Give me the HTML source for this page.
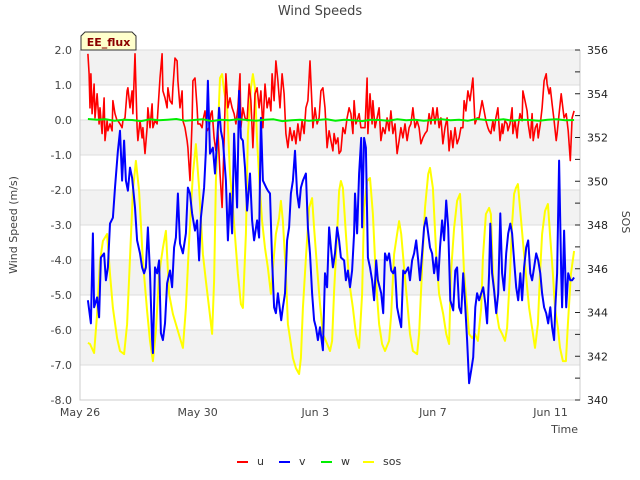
<!DOCTYPE html>
<html><head><meta charset="utf-8"><style>
html,body{margin:0;padding:0;background:#fff;}
svg{display:block;font-family:"DejaVu Sans","Liberation Sans",sans-serif;}
</style></head><body>
<svg id="chart" width="640" height="480" viewBox="0 0 640 480" xmlns="http://www.w3.org/2000/svg">
<text x="320" y="15" text-anchor="middle" font-size="13" fill="#444">Wind Speeds</text>
<g id="bands"></g>
<g id="series"></g>
<g id="axes"></g>
<g>
<path d="M85 32 L132 32 L136 36 L136 50 L81 50 L81 36 Z" fill="#ffffcc" stroke="#333" stroke-width="1"/>
<text x="108.5" y="46" text-anchor="middle" font-size="11" font-weight="bold" fill="#8b0000">EE_flux</text>
</g>
<text transform="translate(17,225) rotate(-90)" text-anchor="middle" font-size="11" fill="#444">Wind Speed (m/s)</text>
<text transform="translate(622,222) rotate(90)" text-anchor="middle" font-size="11" fill="#444">SOS</text>
<text x="578" y="433" text-anchor="end" font-size="11" fill="#444">Time</text>
<g id="legend"></g>
</svg>
<script>
const xTickLabels = ["May 26","May 30","Jun 3","Jun 7","Jun 11"];
const xTickDays = [0,4,8,12,16];
const yTicks = [2,1,0,-1,-2,-3,-4,-5,-6,-7,-8];
const y2Ticks = [356,354,352,350,348,346,344,342,340];

const vT = [0.27,0.37,0.44,0.48,0.58,0.65,0.71,0.82,0.88,0.95,1.02,1.12,1.19,1.29,1.36,1.43,1.50,1.56,1.63,1.70,1.77,1.87,1.94,2.04,2.11,2.18,2.24,2.31,2.38,2.45,2.48,2.55,2.62,2.69,2.75,2.82,2.89,2.96,3.06,3.13,3.20,3.26,3.33,3.40,3.50,3.60,3.67,3.74,3.81,3.91,3.98,4.05,4.11,4.22,4.28,4.35,4.42,4.52,4.59,4.66,4.73,4.79,4.86,4.96,5.03,5.10,5.17,5.24,5.34,5.41,5.47,5.54,5.61,5.68,5.78,5.85,5.92,6.02,6.09,6.15,6.22,6.33,6.39,6.46,6.53,6.60,6.66,6.73,6.84,6.90,6.97,7.04,7.11,7.17,7.24,7.31,7.38,7.45,7.51,7.58,7.68,7.75,7.82,7.89,7.96,8.02,8.09,8.16,8.26,8.33,8.40,8.47,8.53,8.60,8.67,8.74,8.81,8.87,8.98,9.04,9.11,9.18,9.25,9.32,9.35,9.42,9.49,9.56,9.59,9.66,9.72,9.79,9.86,9.93,10.00,10.07,10.13,10.24,10.31,10.37,10.44,10.51,10.58,10.65,10.71,10.78,10.85,10.92,10.99,11.05,11.16,11.22,11.29,11.36,11.43,11.50,11.56,11.63,11.70,11.77,11.84,11.90,11.97,12.04,12.11,12.18,12.24,12.31,12.38,12.45,12.52,12.59,12.69,12.76,12.82,12.89,12.96,13.03,13.10,13.16,13.23,13.30,13.37,13.44,13.50,13.57,13.64,13.71,13.78,13.84,13.91,13.95,14.01,14.08,14.15,14.22,14.29,14.35,14.42,14.49,14.56,14.63,14.69,14.76,14.83,14.90,14.97,15.03,15.10,15.17,15.24,15.31,15.37,15.44,15.51,15.58,15.65,15.71,15.78,15.85,15.92,15.99,16.05,16.12,16.16,16.22,16.29,16.36,16.39,16.46,16.53,16.60,16.67,16.73,16.80];
const vVals = [-5.15,-5.81,-3.24,-5.35,-5.07,-5.64,-3.93,-3.81,-4.58,-4.21,-2.96,-2.79,-1.93,-0.88,-0.31,-1.73,-0.59,-1.73,-2.02,-1.36,-1.65,-2.50,-3.44,-3.81,-4.21,-4.38,-4.21,-3.07,-4.38,-6.29,-6.66,-4.21,-4.38,-4.01,-6.09,-6.29,-5.81,-4.67,-4.30,-4.78,-3.64,-3.36,-2.10,-3.53,-3.81,-3.24,-1.93,-2.10,-2.67,-3.16,-2.87,-4.01,-2.79,-1.93,-0.88,1.12,-0.96,-0.79,-1.53,-0.59,0.35,-0.31,-0.59,-1.73,-3.44,-2.10,-3.24,-0.39,-2.50,0.83,-0.51,-0.59,-1.36,-2.59,-1.53,-2.87,-3.44,-2.87,-3.36,0.06,-1.73,-1.93,-2.02,-2.10,-4.01,-5.35,-5.52,-4.95,-5.72,-5.35,-4.95,-3.44,-3.07,-2.10,-1.73,-0.88,-2.10,-2.50,-1.93,-1.73,-1.53,-3.07,-3.81,-4.95,-5.72,-5.92,-6.29,-5.92,-6.58,-4.38,-4.78,-3.07,-3.64,-4.21,-3.81,-3.07,-3.44,-3.93,-4.01,-4.58,-4.30,-4.78,-4.30,-3.24,-2.10,-3.24,-1.53,-0.51,-3.07,-0.51,-0.79,-3.93,-4.21,-4.58,-5.15,-4.01,-4.58,-4.95,-5.52,-3.81,-4.01,-3.81,-4.30,-4.38,-4.21,-5.35,-5.64,-5.92,-4.30,-4.38,-4.21,-4.58,-4.01,-3.81,-3.44,-4.01,-4.58,-3.81,-3.07,-2.79,-3.24,-3.64,-3.81,-4.38,-3.93,-4.58,-3.64,-2.87,-3.44,-2.30,-3.07,-5.15,-5.44,-4.30,-4.21,-5.35,-5.52,-4.38,-5.35,-6.29,-7.52,-7.15,-6.78,-5.35,-4.95,-5.15,-4.95,-4.78,-5.24,-5.81,-4.38,-2.96,-4.38,-4.87,-5.52,-4.95,-2.67,-4.38,-4.87,-3.81,-3.24,-2.96,-3.24,-4.01,-4.78,-5.15,-4.38,-5.15,-4.21,-3.64,-3.44,-4.38,-4.58,-4.21,-3.81,-4.01,-4.38,-4.95,-5.35,-5.52,-5.81,-5.35,-5.92,-6.29,-5.35,-4.38,-1.16,-4.38,-5.35,-3.16,-5.35,-4.38,-4.58,-4.58,-4.50];

const sosT = [0.27,0.34,0.48,0.58,0.68,0.78,0.92,1.02,1.12,1.26,1.36,1.50,1.60,1.70,1.80,1.90,2.01,2.14,2.28,2.38,2.48,2.58,2.69,2.82,2.92,3.03,3.16,3.26,3.40,3.50,3.60,3.71,3.84,3.94,4.05,4.18,4.28,4.39,4.49,4.56,4.62,4.69,4.76,4.83,4.90,5.00,5.10,5.20,5.30,5.37,5.47,5.54,5.64,5.71,5.81,5.88,5.95,6.02,6.12,6.19,6.29,6.39,6.49,6.60,6.66,6.77,6.83,6.90,7.00,7.07,7.17,7.24,7.34,7.45,7.51,7.58,7.68,7.79,7.89,7.96,8.06,8.16,8.26,8.36,8.50,8.57,8.64,8.74,8.81,8.87,8.94,9.04,9.15,9.28,9.38,9.49,9.59,9.66,9.76,9.86,9.96,10.07,10.17,10.27,10.37,10.51,10.58,10.68,10.78,10.85,10.92,11.02,11.12,11.22,11.32,11.46,11.53,11.63,11.73,11.84,11.90,12.00,12.11,12.21,12.35,12.45,12.55,12.61,12.72,12.82,12.92,12.99,13.06,13.16,13.23,13.33,13.43,13.53,13.64,13.70,13.80,13.91,13.97,14.04,14.14,14.25,14.35,14.45,14.52,14.62,14.69,14.76,14.82,14.89,14.96,15.06,15.16,15.27,15.37,15.47,15.57,15.64,15.71,15.81,15.91,15.98,16.08,16.15,16.25,16.32,16.42,16.52,16.59,16.69,16.80];
const sosVals = [342.61,342.56,342.15,343.93,346.35,347.27,347.59,345.76,344.21,342.83,342.24,342.10,343.47,346.49,349.55,350.93,349.55,346.35,344.07,342.70,341.78,343.15,345.76,346.95,347.73,344.85,343.93,343.47,342.83,342.38,344.21,347.27,350.33,351.70,349.69,346.67,345.44,344.21,343.02,345.44,350.01,352.30,354.72,354.90,354.13,353.35,350.33,348.78,346.95,345.76,344.39,344.21,347.59,352.16,354.26,354.90,354.26,351.84,349.55,348.18,346.95,346.04,344.85,346.67,347.59,348.32,349.10,348.18,345.76,343.47,342.56,341.92,341.46,341.19,341.92,344.21,346.49,348.78,349.23,347.86,346.04,344.39,343.02,342.70,342.24,342.70,344.98,347.59,349.55,350.01,349.69,347.59,345.44,344.21,343.02,342.38,344.85,348.78,350.01,350.15,348.50,345.30,343.47,342.56,342.24,342.70,343.93,346.67,347.59,348.18,347.59,346.04,344.53,343.02,342.24,342.10,343.02,346.04,348.78,350.33,350.61,349.69,346.67,344.85,343.93,343.02,342.56,345.76,347.86,349.10,349.42,347.86,345.76,344.21,343.02,342.83,343.02,342.70,344.21,346.49,348.50,348.78,348.50,345.76,344.21,343.29,343.02,342.70,343.29,345.76,348.04,349.42,349.69,349.87,348.78,347.27,345.76,344.21,343.29,342.38,343.47,345.76,347.59,348.64,348.96,347.59,345.76,344.21,343.29,342.38,341.78,341.78,343.47,345.76,346.81];

const uT = [0.27,0.31,0.34,0.37,0.41,0.48,0.51,0.58,0.65,0.68,0.75,0.82,0.85,0.92,0.95,1.02,1.09,1.12,1.19,1.26,1.29,1.36,1.43,1.46,1.53,1.60,1.63,1.70,1.77,1.80,1.87,1.94,1.97,2.04,2.11,2.14,2.21,2.28,2.31,2.38,2.45,2.48,2.55,2.62,2.65,2.72,2.79,2.82,2.89,2.96,2.99,3.06,3.13,3.16,3.23,3.30,3.33,3.40,3.47,3.50,3.57,3.64,3.67,3.74,3.81,3.84,3.91,3.98,4.01,4.08,4.15,4.18,4.25,4.32,4.39,4.45,4.49,4.56,4.62,4.69,4.76,4.83,4.90,4.96,5.03,5.10,5.17,5.24,5.30,5.37,5.44,5.47,5.54,5.61,5.68,5.75,5.81,5.88,5.95,6.02,6.09,6.15,6.22,6.29,6.36,6.43,6.49,6.53,6.60,6.66,6.73,6.80,6.87,6.94,7.00,7.07,7.14,7.21,7.28,7.34,7.41,7.48,7.55,7.62,7.68,7.75,7.82,7.89,7.92,7.99,8.06,8.13,8.19,8.26,8.33,8.40,8.47,8.53,8.60,8.64,8.70,8.77,8.81,8.87,8.94,9.01,9.08,9.15,9.21,9.28,9.32,9.38,9.45,9.49,9.55,9.62,9.69,9.76,9.79,9.86,9.93,9.96,10.03,10.10,10.17,10.23,10.30,10.37,10.44,10.51,10.57,10.64,10.71,10.78,10.85,10.91,10.98,11.05,11.12,11.19,11.25,11.32,11.39,11.46,11.53,11.59,11.66,11.73,11.80,11.87,11.93,12.00,12.07,12.14,12.21,12.27,12.34,12.41,12.48,12.55,12.61,12.68,12.75,12.82,12.89,12.95,13.02,13.06,13.12,13.19,13.26,13.33,13.36,13.43,13.50,13.57,13.63,13.67,13.74,13.80,13.87,13.91,13.97,14.04,14.08,14.14,14.21,14.28,14.35,14.38,14.45,14.52,14.55,14.62,14.69,14.72,14.79,14.86,14.89,14.96,15.03,15.06,15.13,15.20,15.24,15.31,15.37,15.41,15.48,15.54,15.58,15.65,15.71,15.78,15.85,15.88,15.95,15.99,16.05,16.12,16.19,16.22,16.29,16.36,16.43,16.46,16.53,16.60,16.67,16.73,16.80];
const uVals = [1.89,1.32,0.35,1.32,0.18,1.03,0.06,0.75,-0.11,0.35,-0.39,0.63,-0.59,-0.02,-0.31,-0.11,-0.31,0.55,0.18,-0.02,-0.02,-0.11,-0.22,-0.02,0.06,0.83,0.92,0.35,0.83,0.18,1.89,-0.22,-0.59,-0.02,-0.51,-0.22,-0.96,-0.22,0.35,-0.22,0.46,-0.22,-0.02,-0.11,0.26,1.20,1.89,0.83,0.63,0.35,0.92,0.55,0.46,0.92,1.77,1.69,1.12,0.35,0.83,-0.02,-0.22,-0.59,-0.79,-1.73,-0.02,1.12,1.20,0.35,-0.11,-0.11,-0.22,-0.02,0.26,-0.31,-0.22,0.18,0.26,-0.51,-0.88,-0.31,-1.53,-2.50,-0.59,1.32,0.35,0.63,0.35,0.18,-0.11,0.35,1.32,-0.22,0.35,0.06,-0.02,1.03,0.55,-0.79,0.75,0.92,0.35,0.83,-0.22,1.03,0.35,0.63,0.26,1.32,0.55,1.69,1.12,0.35,1.32,0.75,-0.39,-0.79,-0.22,-0.59,-0.31,-0.68,-0.11,-0.59,-0.02,-0.39,0.35,0.55,1.69,0.35,-0.22,0.35,-0.11,0.06,0.83,0.92,0.35,-0.79,-0.31,-0.59,-0.88,-0.39,-0.68,-0.51,-0.96,-0.88,-0.22,-0.39,0.06,0.35,0.18,-0.39,0.55,-0.11,0.06,0.18,-0.22,-0.22,-0.22,1.20,-0.39,0.75,-0.11,0.55,-0.22,0.06,0.35,-0.59,-0.22,-0.39,0.06,-0.31,0.26,-0.39,-0.11,-0.96,-0.59,-0.22,-0.51,-0.11,-0.59,-0.22,-0.11,0.35,-0.22,-0.02,-0.22,-0.68,-0.51,-0.39,-0.31,0.18,-0.11,0.35,-0.11,0.35,-0.22,0.06,-0.68,-0.22,0.06,-0.88,-0.31,-0.79,-0.22,-0.68,-0.51,-0.22,-0.22,0.55,0.26,0.83,0.55,1.03,1.20,-0.11,0.06,0.06,0.35,0.55,0.26,-0.02,-0.22,-0.31,-0.39,-0.02,-0.31,0.06,0.35,-0.59,-0.11,-0.39,-0.02,-0.11,-0.31,-0.11,0.35,-0.39,-0.02,-0.51,-0.22,0.18,-0.02,0.83,0.55,0.26,-0.11,-0.51,0.18,-0.59,-0.22,-0.11,-0.51,-0.11,0.35,1.12,1.32,1.03,0.75,0.92,0.46,-0.02,-0.59,-0.39,0.18,0.75,0.26,0.06,0.18,-0.31,-1.16,0.06,0.26];

const wStart = 0.27;
const wEnd = 16.80;
const wVals = [0.03,0.01,0.02,-0.02,0.01,0.0,-0.03,0.02,-0.01,0.01,0.03,-0.02,0.0,0.02,-0.03,0.01,-0.01,0.02,0.0,-0.02,0.01,0.02,-0.03,-0.01,0.01,-0.02,0.0,0.02,-0.02,0.01,-0.01,-0.03,0.01,0.0,-0.02,0.02,-0.01,0.01,-0.02,0.0,0.02,-0.01,0.01,-0.02,0.03,0.0,-0.01,0.02,-0.02,0.01,0.0,-0.02,0.01,0.02,-0.01,0.0];

const legendNames = ["u","v","w","sos"];
const legendColors = ["#ff0000","#0000ff","#00ee00","#ffff00"];

const NS = "http://www.w3.org/2000/svg";
const PL = 80, PR = 580, PT = 50, PB = 400;
const dayMin = 0, dayMax = 17;
const yMin = -8, yMax = 2, y2Min = 340, y2Max = 356;
const xs = d => PL + (d - dayMin) / (dayMax - dayMin) * (PR - PL);
const ys = v => PB - (v - yMin) / (yMax - yMin) * (PB - PT);
const ys2 = v => PB - (v - y2Min) / (y2Max - y2Min) * (PB - PT);
function mk(tag, attrs, parent){ const e=document.createElementNS(NS,tag); for(const k in attrs) e.setAttribute(k,attrs[k]); parent.appendChild(e); return e; }

const bands = document.getElementById('bands');
for (let i=0;i<yTicks.length-1;i++){
  const r = mk('rect',{x:PL,y:ys(yTicks[i]),width:PR-PL,height:ys(yTicks[i+1])-ys(yTicks[i]),fill:(i%2===0)?'#f2f2f2':'#ffffff'},bands);
  
  
}
for (const t of yTicks){
  const l = mk('line',{x1:PL,x2:PR,y1:ys(t),y2:ys(t),stroke:'#dddddd','stroke-width':1},bands);
  
  
}

const series = document.getElementById('series');
function drawLine(T, V, scale, color, name, w){
  let d='';
  for(let i=0;i<V.length;i++){ d += (i?'L':'M') + xs(T[i]).toFixed(1) + ' ' + scale(V[i]).toFixed(1); }
  const p = mk('path',{d:d,fill:'none',stroke:color,'stroke-width':w,'stroke-linejoin':'round'},series);
  
  
}
const wT = wVals.map((_,i)=> wStart + i*(wEnd-wStart)/(wVals.length-1));
drawLine(sosT, sosVals, ys2, '#ffff00', 'sos-line', 2);
drawLine(uT, uVals, ys, '#ff0000', 'u-line', 1.6);
drawLine(vT, vVals, ys, '#0000ff', 'v-line', 2);
drawLine(wT, wVals, ys, '#00ee00', 'w-line', 2);

const axes = document.getElementById('axes');
const frame = mk('path',{d:`M${PL} ${PT} L${PL} ${PB} L${PR} ${PB} L${PR} ${PT}`,fill:'none',stroke:'#cccccc','stroke-width':1},axes);


for (const t of yTicks){
  const tx = mk('text',{x:72,y:ys(t)+4,'text-anchor':'end','font-size':11,fill:'#444'},axes);
  tx.textContent = t.toFixed(1);
  
  
}
for (let v=y2Min; v<=y2Max; v++){
  const tk = mk('line',{x1:PR-5,x2:PR,y1:ys2(v),y2:ys2(v),stroke:'#222','stroke-width':1},axes);
  
  
}
for (const t of y2Ticks){
  const tx = mk('text',{x:587,y:ys2(t)+4,'font-size':11,fill:'#222'},axes);
  tx.textContent = String(t);
  
  
}
for (let i=0;i<xTickLabels.length;i++){
  const tx = mk('text',{x:xs(xTickDays[i]),y:416,'text-anchor':'middle','font-size':11,fill:'#444'},axes);
  tx.textContent = xTickLabels[i];
  
  
}

const legend = document.getElementById('legend');
const legX = [237,279,321,363];
for (let i=0;i<legendNames.length;i++){
  const g = mk('g',{},legend);
  
  
  mk('line',{x1:legX[i],x2:legX[i]+11,y1:462,y2:462,stroke:legendColors[i],'stroke-width':2},g);
  const tx = mk('text',{x:legX[i]+20,y:465,'font-size':11,fill:'#333'},g);
  tx.textContent = legendNames[i];
}
</script>
</body></html>
